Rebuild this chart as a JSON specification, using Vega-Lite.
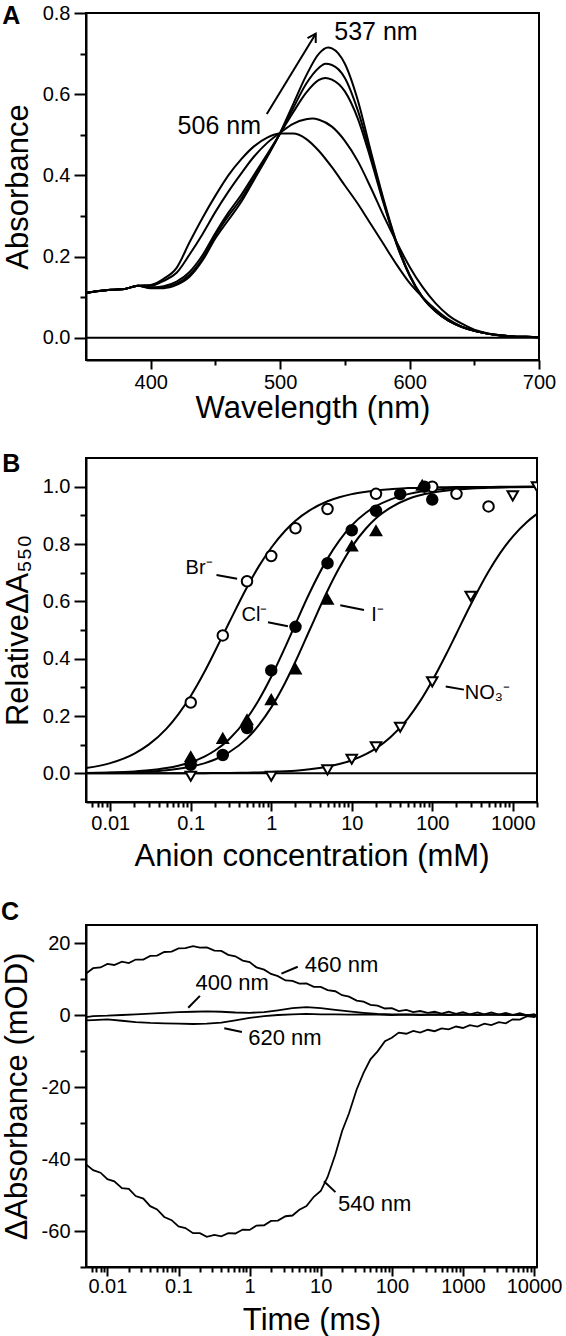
{
"$schema": "https://vega.github.io/schema/vega-lite/v6.json",
"padding": {"left": 0, "top": 2, "right": 0, "bottom": 0},
"spacing": 26,
"config": {
 "font": "Liberation Sans",
 "view": {"stroke": "black", "strokeWidth": 2},
 "axis": {"domainColor": "black", "domainWidth": 2, "tickColor": "black", "tickWidth": 2, "labelColor": "black", "labelFontSize": 20, "titleColor": "black", "titleFontSize": 31, "titleFontWeight": "normal", "grid": false, "labelFlush": false, "labelOverlap": false},
 "title": {"fontSize": 25, "fontWeight": "bold", "anchor": "start", "frame": "bounds", "color": "black", "baseline": "middle"}
},
"datasets": {
 "specA": [
  {"x":350,"y":0.110,"c":1},{"x":360,"y":0.115,"c":1},{"x":370,"y":0.118,"c":1},{"x":380,"y":0.120,"c":1},{"x":390,"y":0.128,"c":1},{"x":400,"y":0.130,"c":1},{"x":410,"y":0.145,"c":1},{"x":420,"y":0.172,"c":1},{"x":430,"y":0.235,"c":1},{"x":440,"y":0.295,"c":1},{"x":450,"y":0.350,"c":1},{"x":460,"y":0.400,"c":1},{"x":470,"y":0.440,"c":1},{"x":480,"y":0.472,"c":1},{"x":490,"y":0.493,"c":1},{"x":500,"y":0.503,"c":1},{"x":510,"y":0.503,"c":1},{"x":520,"y":0.490,"c":1},{"x":530,"y":0.460,"c":1},{"x":540,"y":0.420,"c":1},{"x":550,"y":0.375,"c":1},{"x":560,"y":0.330,"c":1},{"x":570,"y":0.280,"c":1},{"x":580,"y":0.230,"c":1},{"x":590,"y":0.180,"c":1},{"x":600,"y":0.135,"c":1},{"x":610,"y":0.100,"c":1},{"x":620,"y":0.070,"c":1},{"x":630,"y":0.045,"c":1},{"x":640,"y":0.028,"c":1},{"x":650,"y":0.017,"c":1},{"x":660,"y":0.010,"c":1},{"x":670,"y":0.005,"c":1},{"x":680,"y":0.003,"c":1},{"x":690,"y":0.002,"c":1},{"x":700,"y":0.001,"c":1},
  {"x":350,"y":0.110,"c":2},{"x":360,"y":0.115,"c":2},{"x":370,"y":0.118,"c":2},{"x":380,"y":0.120,"c":2},{"x":390,"y":0.128,"c":2},{"x":400,"y":0.128,"c":2},{"x":410,"y":0.140,"c":2},{"x":420,"y":0.160,"c":2},{"x":430,"y":0.205,"c":2},{"x":440,"y":0.255,"c":2},{"x":450,"y":0.310,"c":2},{"x":460,"y":0.360,"c":2},{"x":470,"y":0.405,"c":2},{"x":480,"y":0.447,"c":2},{"x":490,"y":0.480,"c":2},{"x":500,"y":0.505,"c":2},{"x":510,"y":0.527,"c":2},{"x":520,"y":0.538,"c":2},{"x":525,"y":0.540,"c":2},{"x":530,"y":0.537,"c":2},{"x":540,"y":0.520,"c":2},{"x":550,"y":0.485,"c":2},{"x":560,"y":0.435,"c":2},{"x":570,"y":0.370,"c":2},{"x":580,"y":0.300,"c":2},{"x":590,"y":0.235,"c":2},{"x":600,"y":0.175,"c":2},{"x":610,"y":0.125,"c":2},{"x":620,"y":0.085,"c":2},{"x":630,"y":0.055,"c":2},{"x":640,"y":0.035,"c":2},{"x":650,"y":0.020,"c":2},{"x":660,"y":0.011,"c":2},{"x":670,"y":0.006,"c":2},{"x":680,"y":0.003,"c":2},{"x":690,"y":0.002,"c":2},{"x":700,"y":0.001,"c":2},
  {"x":350,"y":0.110,"c":3},{"x":360,"y":0.115,"c":3},{"x":370,"y":0.118,"c":3},{"x":380,"y":0.120,"c":3},{"x":390,"y":0.128,"c":3},{"x":400,"y":0.124,"c":3},{"x":410,"y":0.127,"c":3},{"x":420,"y":0.138,"c":3},{"x":430,"y":0.162,"c":3},{"x":440,"y":0.203,"c":3},{"x":450,"y":0.258,"c":3},{"x":460,"y":0.308,"c":3},{"x":470,"y":0.352,"c":3},{"x":480,"y":0.402,"c":3},{"x":490,"y":0.452,"c":3},{"x":500,"y":0.503,"c":3},{"x":510,"y":0.555,"c":3},{"x":520,"y":0.603,"c":3},{"x":530,"y":0.635,"c":3},{"x":535,"y":0.640,"c":3},{"x":540,"y":0.636,"c":3},{"x":550,"y":0.607,"c":3},{"x":560,"y":0.540,"c":3},{"x":570,"y":0.440,"c":3},{"x":580,"y":0.330,"c":3},{"x":590,"y":0.230,"c":3},{"x":600,"y":0.153,"c":3},{"x":610,"y":0.099,"c":3},{"x":620,"y":0.065,"c":3},{"x":630,"y":0.042,"c":3},{"x":640,"y":0.027,"c":3},{"x":650,"y":0.017,"c":3},{"x":660,"y":0.010,"c":3},{"x":670,"y":0.006,"c":3},{"x":680,"y":0.003,"c":3},{"x":690,"y":0.002,"c":3},{"x":700,"y":0.001,"c":3},
  {"x":350,"y":0.110,"c":4},{"x":360,"y":0.115,"c":4},{"x":370,"y":0.118,"c":4},{"x":380,"y":0.120,"c":4},{"x":390,"y":0.128,"c":4},{"x":400,"y":0.123,"c":4},{"x":410,"y":0.124,"c":4},{"x":420,"y":0.133,"c":4},{"x":430,"y":0.155,"c":4},{"x":440,"y":0.195,"c":4},{"x":450,"y":0.252,"c":4},{"x":460,"y":0.300,"c":4},{"x":470,"y":0.343,"c":4},{"x":480,"y":0.395,"c":4},{"x":490,"y":0.448,"c":4},{"x":500,"y":0.503,"c":4},{"x":510,"y":0.565,"c":4},{"x":520,"y":0.625,"c":4},{"x":530,"y":0.665,"c":4},{"x":535,"y":0.675,"c":4},{"x":540,"y":0.672,"c":4},{"x":550,"y":0.640,"c":4},{"x":560,"y":0.560,"c":4},{"x":570,"y":0.450,"c":4},{"x":580,"y":0.335,"c":4},{"x":590,"y":0.232,"c":4},{"x":600,"y":0.153,"c":4},{"x":610,"y":0.099,"c":4},{"x":620,"y":0.065,"c":4},{"x":630,"y":0.042,"c":4},{"x":640,"y":0.027,"c":4},{"x":650,"y":0.017,"c":4},{"x":660,"y":0.010,"c":4},{"x":670,"y":0.006,"c":4},{"x":680,"y":0.003,"c":4},{"x":690,"y":0.002,"c":4},{"x":700,"y":0.001,"c":4},
  {"x":350,"y":0.110,"c":5},{"x":360,"y":0.115,"c":5},{"x":370,"y":0.118,"c":5},{"x":380,"y":0.120,"c":5},{"x":390,"y":0.128,"c":5},{"x":400,"y":0.122,"c":5},{"x":410,"y":0.122,"c":5},{"x":420,"y":0.130,"c":5},{"x":430,"y":0.150,"c":5},{"x":440,"y":0.190,"c":5},{"x":450,"y":0.245,"c":5},{"x":460,"y":0.290,"c":5},{"x":470,"y":0.335,"c":5},{"x":480,"y":0.390,"c":5},{"x":490,"y":0.445,"c":5},{"x":500,"y":0.505,"c":5},{"x":510,"y":0.575,"c":5},{"x":520,"y":0.645,"c":5},{"x":530,"y":0.700,"c":5},{"x":537,"y":0.715,"c":5},{"x":540,"y":0.713,"c":5},{"x":550,"y":0.675,"c":5},{"x":560,"y":0.585,"c":5},{"x":570,"y":0.460,"c":5},{"x":580,"y":0.340,"c":5},{"x":590,"y":0.235,"c":5},{"x":600,"y":0.155,"c":5},{"x":610,"y":0.100,"c":5},{"x":620,"y":0.065,"c":5},{"x":630,"y":0.042,"c":5},{"x":640,"y":0.027,"c":5},{"x":650,"y":0.017,"c":5},{"x":660,"y":0.010,"c":5},{"x":670,"y":0.006,"c":5},{"x":680,"y":0.003,"c":5},{"x":690,"y":0.002,"c":5},{"x":700,"y":0.001,"c":5}
 ],
 "zeroA": [{"x":350,"x2":700,"y":0}],
 "lblA": [{"x":453,"y":0.522,"t":"506 nm"},{"x":574,"y":0.752,"t":"537 nm"}],
 "arrA": [{"x":489.7,"y":0.551,"x2":527.5,"y2":0.749}],
 "headA": [{"x":527.5,"y":0.749}],
 "zeroB": [{"x":0.005,"x2":2000,"y":0}],
 "fitB": [
  {"x":0.005,"y":0.0182,"s":"Br"},{"x":0.01,"y":0.0357,"s":"Br"},{"x":0.02,"y":0.069,"s":"Br"},{"x":0.03,"y":0.1,"s":"Br"},{"x":0.05,"y":0.156,"s":"Br"},{"x":0.07,"y":0.206,"s":"Br"},{"x":0.1,"y":0.27,"s":"Br"},{"x":0.15,"y":0.357,"s":"Br"},{"x":0.2,"y":0.426,"s":"Br"},{"x":0.3,"y":0.526,"s":"Br"},{"x":0.5,"y":0.649,"s":"Br"},{"x":0.7,"y":0.722,"s":"Br"},{"x":1,"y":0.787,"s":"Br"},{"x":1.5,"y":0.847,"s":"Br"},{"x":2,"y":0.881,"s":"Br"},{"x":3,"y":0.917,"s":"Br"},{"x":5,"y":0.949,"s":"Br"},{"x":7,"y":0.963,"s":"Br"},{"x":10,"y":0.974,"s":"Br"},{"x":15,"y":0.982,"s":"Br"},{"x":20,"y":0.987,"s":"Br"},{"x":30,"y":0.991,"s":"Br"},{"x":50,"y":0.995,"s":"Br"},{"x":70,"y":0.996,"s":"Br"},{"x":100,"y":0.997,"s":"Br"},{"x":200,"y":0.999,"s":"Br"},{"x":500,"y":0.999,"s":"Br"},{"x":1000,"y":1.0,"s":"Br"},{"x":2000,"y":1.0,"s":"Br"},
  {"x":0.005,"y":0.0015,"s":"Cl"},{"x":0.01,"y":0.0032,"s":"Cl"},{"x":0.02,"y":0.0068,"s":"Cl"},{"x":0.03,"y":0.0106,"s":"Cl"},{"x":0.05,"y":0.0185,"s":"Cl"},{"x":0.07,"y":0.0266,"s":"Cl"},{"x":0.1,"y":0.0388,"s":"Cl"},{"x":0.15,"y":0.0594,"s":"Cl"},{"x":0.2,"y":0.0797,"s":"Cl"},{"x":0.3,"y":0.119,"s":"Cl"},{"x":0.5,"y":0.192,"s":"Cl"},{"x":0.7,"y":0.256,"s":"Cl"},{"x":1,"y":0.337,"s":"Cl"},{"x":1.5,"y":0.442,"s":"Cl"},{"x":2,"y":0.521,"s":"Cl"},{"x":3,"y":0.63,"s":"Cl"},{"x":5,"y":0.749,"s":"Cl"},{"x":7,"y":0.812,"s":"Cl"},{"x":10,"y":0.865,"s":"Cl"},{"x":15,"y":0.909,"s":"Cl"},{"x":20,"y":0.932,"s":"Cl"},{"x":30,"y":0.955,"s":"Cl"},{"x":50,"y":0.974,"s":"Cl"},{"x":70,"y":0.982,"s":"Cl"},{"x":100,"y":0.988,"s":"Cl"},{"x":200,"y":0.994,"s":"Cl"},{"x":500,"y":0.998,"s":"Cl"},{"x":1000,"y":0.999,"s":"Cl"},{"x":2000,"y":1.0,"s":"Cl"},
  {"x":0.005,"y":0.0009,"s":"I"},{"x":0.01,"y":0.0019,"s":"I"},{"x":0.02,"y":0.004,"s":"I"},{"x":0.03,"y":0.0063,"s":"I"},{"x":0.05,"y":0.0109,"s":"I"},{"x":0.07,"y":0.0158,"s":"I"},{"x":0.1,"y":0.0232,"s":"I"},{"x":0.15,"y":0.0357,"s":"I"},{"x":0.2,"y":0.0484,"s":"I"},{"x":0.3,"y":0.0736,"s":"I"},{"x":0.5,"y":0.122,"s":"I"},{"x":0.7,"y":0.168,"s":"I"},{"x":1,"y":0.23,"s":"I"},{"x":1.5,"y":0.318,"s":"I"},{"x":2,"y":0.39,"s":"I"},{"x":3,"y":0.5,"s":"I"},{"x":5,"y":0.637,"s":"I"},{"x":7,"y":0.717,"s":"I"},{"x":10,"y":0.79,"s":"I"},{"x":15,"y":0.854,"s":"I"},{"x":20,"y":0.89,"s":"I"},{"x":30,"y":0.926,"s":"I"},{"x":50,"y":0.957,"s":"I"},{"x":70,"y":0.97,"s":"I"},{"x":100,"y":0.979,"s":"I"},{"x":200,"y":0.99,"s":"I"},{"x":500,"y":0.996,"s":"I"},{"x":1000,"y":0.998,"s":"I"},{"x":2000,"y":0.999,"s":"I"},
  {"x":0.005,"y":0.0,"s":"NO3"},{"x":0.01,"y":0.0,"s":"NO3"},{"x":0.02,"y":0.0001,"s":"NO3"},{"x":0.03,"y":0.0001,"s":"NO3"},{"x":0.05,"y":0.0002,"s":"NO3"},{"x":0.07,"y":0.0003,"s":"NO3"},{"x":0.1,"y":0.0005,"s":"NO3"},{"x":0.15,"y":0.0007,"s":"NO3"},{"x":0.2,"y":0.001,"s":"NO3"},{"x":0.3,"y":0.0014,"s":"NO3"},{"x":0.5,"y":0.0024,"s":"NO3"},{"x":0.7,"y":0.0033,"s":"NO3"},{"x":1,"y":0.0047,"s":"NO3"},{"x":1.5,"y":0.0071,"s":"NO3"},{"x":2,"y":0.0094,"s":"NO3"},{"x":3,"y":0.0141,"s":"NO3"},{"x":5,"y":0.0233,"s":"NO3"},{"x":7,"y":0.0323,"s":"NO3"},{"x":10,"y":0.0455,"s":"NO3"},{"x":15,"y":0.0667,"s":"NO3"},{"x":20,"y":0.087,"s":"NO3"},{"x":30,"y":0.125,"s":"NO3"},{"x":50,"y":0.192,"s":"NO3"},{"x":70,"y":0.25,"s":"NO3"},{"x":100,"y":0.323,"s":"NO3"},{"x":150,"y":0.417,"s":"NO3"},{"x":200,"y":0.488,"s":"NO3"},{"x":300,"y":0.588,"s":"NO3"},{"x":500,"y":0.704,"s":"NO3"},{"x":700,"y":0.769,"s":"NO3"},{"x":1000,"y":0.826,"s":"NO3"},{"x":1500,"y":0.877,"s":"NO3"},{"x":2000,"y":0.905,"s":"NO3"}
 ],
 "ptsB": [
  {"x":0.1,"y":0.247,"s":"Br"},{"x":0.25,"y":0.481,"s":"Br"},{"x":0.5,"y":0.67,"s":"Br"},{"x":1,"y":0.758,"s":"Br"},{"x":2,"y":0.855,"s":"Br"},{"x":5,"y":0.922,"s":"Br"},{"x":20,"y":0.975,"s":"Br"},{"x":100,"y":1.0,"s":"Br"},{"x":200,"y":0.975,"s":"Br"},{"x":500,"y":0.931,"s":"Br"},
  {"x":0.1,"y":0.03,"s":"Cl"},{"x":0.25,"y":0.064,"s":"Cl"},{"x":0.5,"y":0.158,"s":"Cl"},{"x":1,"y":0.359,"s":"Cl"},{"x":2,"y":0.511,"s":"Cl"},{"x":5,"y":0.733,"s":"Cl"},{"x":10,"y":0.848,"s":"Cl"},{"x":20,"y":0.916,"s":"Cl"},{"x":40,"y":0.974,"s":"Cl"},{"x":80,"y":1.0,"s":"Cl"},{"x":100,"y":0.955,"s":"Cl"},
  {"x":0.1,"y":0.058,"s":"I"},{"x":0.25,"y":0.122,"s":"I"},{"x":0.5,"y":0.187,"s":"I"},{"x":1,"y":0.257,"s":"I"},{"x":2,"y":0.364,"s":"I"},{"x":5,"y":0.607,"s":"I"},{"x":10,"y":0.793,"s":"I"},{"x":20,"y":0.846,"s":"I"},{"x":75,"y":1.005,"s":"I"},
  {"x":0.1,"y":-0.01,"s":"NO3"},{"x":1,"y":-0.01,"s":"NO3"},{"x":5,"y":0.012,"s":"NO3"},{"x":10,"y":0.049,"s":"NO3"},{"x":20,"y":0.093,"s":"NO3"},{"x":40,"y":0.161,"s":"NO3"},{"x":100,"y":0.319,"s":"NO3"},{"x":300,"y":0.618,"s":"NO3"},{"x":1000,"y":0.968,"s":"NO3"},{"x":2000,"y":1.0,"s":"NO3"}
 ],
 "lblB": [{"x":0.127,"y":0.718,"t":"Br⁻"},{"x":0.62,"y":0.551,"t":"Cl⁻"},{"x":20.9,"y":0.551,"t":"I⁻"},{"x":484,"y":0.28,"t":"NO₃⁻"}],
 "ldrB": [{"x":0.209,"y":0.692,"x2":0.377,"y2":0.679},{"x":0.91,"y":0.527,"x2":1.61,"y2":0.513},{"x":7.2,"y":0.586,"x2":14.2,"y2":0.57},{"x":147,"y":0.303,"x2":247,"y2":0.292}],
 "trC": [
  {"x":0.005,"y":11.5,"s":"460"},{"x":0.0063,"y":13.0,"s":"460"},{"x":0.008,"y":13.2,"s":"460"},{"x":0.01,"y":14.2,"s":"460"},{"x":0.0125,"y":13.9,"s":"460"},{"x":0.016,"y":14.8,"s":"460"},{"x":0.02,"y":14.4,"s":"460"},{"x":0.025,"y":15.4,"s":"460"},{"x":0.032,"y":15.4,"s":"460"},{"x":0.04,"y":16.4,"s":"460"},{"x":0.05,"y":16.5,"s":"460"},{"x":0.063,"y":17.5,"s":"460"},{"x":0.08,"y":17.6,"s":"460"},{"x":0.1,"y":18.5,"s":"460"},{"x":0.125,"y":18.6,"s":"460"},{"x":0.16,"y":19.1,"s":"460"},{"x":0.2,"y":18.7,"s":"460"},{"x":0.25,"y":18.8,"s":"460"},{"x":0.32,"y":17.9,"s":"460"},{"x":0.4,"y":17.8,"s":"460"},{"x":0.5,"y":16.7,"s":"460"},{"x":0.63,"y":16.3,"s":"460"},{"x":0.8,"y":15.1,"s":"460"},{"x":1,"y":14.7,"s":"460"},{"x":1.25,"y":13.2,"s":"460"},{"x":1.6,"y":12.6,"s":"460"},{"x":2,"y":11.4,"s":"460"},{"x":2.5,"y":10.8,"s":"460"},{"x":3.2,"y":9.6,"s":"460"},{"x":4,"y":9.5,"s":"460"},{"x":5,"y":8.7,"s":"460"},{"x":6.3,"y":8.8,"s":"460"},{"x":8,"y":7.8,"s":"460"},{"x":10,"y":7.8,"s":"460"},{"x":12.5,"y":6.9,"s":"460"},{"x":16,"y":6.6,"s":"460"},{"x":20,"y":5.5,"s":"460"},{"x":25,"y":5.1,"s":"460"},{"x":32,"y":4.0,"s":"460"},{"x":40,"y":3.7,"s":"460"},{"x":50,"y":2.8,"s":"460"},{"x":63,"y":2.6,"s":"460"},{"x":80,"y":1.8,"s":"460"},{"x":100,"y":1.9,"s":"460"},{"x":125,"y":1.1,"s":"460"},{"x":160,"y":1.4,"s":"460"},{"x":200,"y":0.8,"s":"460"},{"x":250,"y":1.1,"s":"460"},{"x":320,"y":0.6,"s":"460"},{"x":400,"y":0.9,"s":"460"},{"x":500,"y":0.4,"s":"460"},{"x":630,"y":0.9,"s":"460"},{"x":800,"y":0.3,"s":"460"},{"x":1000,"y":0.8,"s":"460"},{"x":1250,"y":0.2,"s":"460"},{"x":1600,"y":0.7,"s":"460"},{"x":2000,"y":0.2,"s":"460"},{"x":2500,"y":0.7,"s":"460"},{"x":3200,"y":0.1,"s":"460"},{"x":4000,"y":0.6,"s":"460"},{"x":5000,"y":0.0,"s":"460"},{"x":6300,"y":0.5,"s":"460"},{"x":8000,"y":-0.1,"s":"460"},{"x":10000,"y":0.2,"s":"460"},{"x":11000,"y":-0.2,"s":"460"},
  {"x":0.005,"y":-41.5,"s":"540"},{"x":0.0063,"y":-43.1,"s":"540"},{"x":0.008,"y":-43.8,"s":"540"},{"x":0.01,"y":-45.6,"s":"540"},{"x":0.0125,"y":-46.2,"s":"540"},{"x":0.016,"y":-48.1,"s":"540"},{"x":0.02,"y":-48.3,"s":"540"},{"x":0.025,"y":-50.3,"s":"540"},{"x":0.032,"y":-51.0,"s":"540"},{"x":0.04,"y":-53.1,"s":"540"},{"x":0.05,"y":-54.0,"s":"540"},{"x":0.063,"y":-56.1,"s":"540"},{"x":0.08,"y":-57.0,"s":"540"},{"x":0.1,"y":-58.7,"s":"540"},{"x":0.125,"y":-59.2,"s":"540"},{"x":0.16,"y":-60.6,"s":"540"},{"x":0.2,"y":-60.6,"s":"540"},{"x":0.25,"y":-61.6,"s":"540"},{"x":0.32,"y":-61.1,"s":"540"},{"x":0.4,"y":-61.5,"s":"540"},{"x":0.5,"y":-60.6,"s":"540"},{"x":0.63,"y":-60.7,"s":"540"},{"x":0.8,"y":-59.6,"s":"540"},{"x":1,"y":-59.7,"s":"540"},{"x":1.25,"y":-58.5,"s":"540"},{"x":1.6,"y":-58.4,"s":"540"},{"x":2,"y":-57.2,"s":"540"},{"x":2.5,"y":-57.1,"s":"540"},{"x":3.2,"y":-55.9,"s":"540"},{"x":4,"y":-55.7,"s":"540"},{"x":5,"y":-54.1,"s":"540"},{"x":6.3,"y":-53.1,"s":"540"},{"x":8,"y":-50.5,"s":"540"},{"x":10,"y":-48.9,"s":"540"},{"x":12.5,"y":-45.0,"s":"540"},{"x":16,"y":-38.8,"s":"540"},{"x":20,"y":-32.2,"s":"540"},{"x":25,"y":-27.3,"s":"540"},{"x":32,"y":-20.7,"s":"540"},{"x":40,"y":-16.1,"s":"540"},{"x":50,"y":-12.3,"s":"540"},{"x":63,"y":-10.1,"s":"540"},{"x":80,"y":-7.3,"s":"540"},{"x":100,"y":-6.3,"s":"540"},{"x":125,"y":-4.9,"s":"540"},{"x":160,"y":-5.2,"s":"540"},{"x":200,"y":-4.4,"s":"540"},{"x":250,"y":-4.9,"s":"540"},{"x":320,"y":-4.1,"s":"540"},{"x":400,"y":-4.5,"s":"540"},{"x":500,"y":-3.7,"s":"540"},{"x":630,"y":-4.0,"s":"540"},{"x":800,"y":-3.2,"s":"540"},{"x":1000,"y":-3.6,"s":"540"},{"x":1250,"y":-2.8,"s":"540"},{"x":1600,"y":-3.2,"s":"540"},{"x":2000,"y":-2.4,"s":"540"},{"x":2500,"y":-2.8,"s":"540"},{"x":3200,"y":-2.0,"s":"540"},{"x":4000,"y":-2.3,"s":"540"},{"x":5000,"y":-1.2,"s":"540"},{"x":6300,"y":-1.3,"s":"540"},{"x":8000,"y":-0.3,"s":"540"},{"x":10000,"y":-0.6,"s":"540"},{"x":11000,"y":-0.2,"s":"540"},
  {"x":0.005,"y":-0.6,"s":"400"},{"x":0.0063,"y":-0.3,"s":"400"},{"x":0.01,"y":-0.2,"s":"400"},{"x":0.016,"y":0.0,"s":"400"},{"x":0.025,"y":0.2,"s":"400"},{"x":0.04,"y":0.4,"s":"400"},{"x":0.063,"y":0.6,"s":"400"},{"x":0.1,"y":0.8,"s":"400"},{"x":0.16,"y":0.9,"s":"400"},{"x":0.25,"y":1.0,"s":"400"},{"x":0.4,"y":0.9,"s":"400"},{"x":0.63,"y":0.7,"s":"400"},{"x":1,"y":0.6,"s":"400"},{"x":1.6,"y":0.8,"s":"400"},{"x":2.5,"y":1.3,"s":"400"},{"x":4,"y":1.9,"s":"400"},{"x":6.3,"y":2.2,"s":"400"},{"x":10,"y":1.9,"s":"400"},{"x":16,"y":1.4,"s":"400"},{"x":25,"y":1.0,"s":"400"},{"x":40,"y":0.6,"s":"400"},{"x":63,"y":0.3,"s":"400"},{"x":100,"y":0.2,"s":"400"},{"x":160,"y":0.2,"s":"400"},{"x":250,"y":0.1,"s":"400"},{"x":400,"y":0.2,"s":"400"},{"x":630,"y":0.1,"s":"400"},{"x":1000,"y":0.2,"s":"400"},{"x":1600,"y":0.1,"s":"400"},{"x":2500,"y":0.2,"s":"400"},{"x":4000,"y":0.1,"s":"400"},{"x":6300,"y":0.0,"s":"400"},{"x":10000,"y":-0.1,"s":"400"},{"x":11000,"y":-0.2,"s":"400"},
  {"x":0.005,"y":-1.5,"s":"620"},{"x":0.0063,"y":-1.4,"s":"620"},{"x":0.01,"y":-1.2,"s":"620"},{"x":0.016,"y":-1.6,"s":"620"},{"x":0.025,"y":-2.0,"s":"620"},{"x":0.04,"y":-2.2,"s":"620"},{"x":0.063,"y":-2.3,"s":"620"},{"x":0.1,"y":-2.4,"s":"620"},{"x":0.16,"y":-2.5,"s":"620"},{"x":0.25,"y":-2.4,"s":"620"},{"x":0.4,"y":-2.1,"s":"620"},{"x":0.63,"y":-1.5,"s":"620"},{"x":1,"y":-0.8,"s":"620"},{"x":1.6,"y":-0.3,"s":"620"},{"x":2.5,"y":0.0,"s":"620"},{"x":4,"y":0.2,"s":"620"},{"x":6.3,"y":0.3,"s":"620"},{"x":10,"y":0.2,"s":"620"},{"x":16,"y":0.2,"s":"620"},{"x":25,"y":0.1,"s":"620"},{"x":40,"y":0.2,"s":"620"},{"x":63,"y":0.1,"s":"620"},{"x":100,"y":0.0,"s":"620"},{"x":160,"y":0.1,"s":"620"},{"x":250,"y":0.0,"s":"620"},{"x":400,"y":0.1,"s":"620"},{"x":630,"y":0.0,"s":"620"},{"x":1000,"y":0.1,"s":"620"},{"x":1600,"y":0.0,"s":"620"},{"x":2500,"y":0.1,"s":"620"},{"x":4000,"y":0.0,"s":"620"},{"x":6300,"y":0.0,"s":"620"},{"x":10000,"y":-0.1,"s":"620"},{"x":11000,"y":-0.2,"s":"620"}
 ],
 "lblC": [{"x":19.6,"y":14.0,"t":"460 nm"},{"x":0.567,"y":9.0,"t":"400 nm"},{"x":3.13,"y":-6.3,"t":"620 nm"},{"x":57.3,"y":-52.4,"t":"540 nm"}],
 "ldrC": [{"x":2.8,"y":11.5,"x2":4.75,"y2":13.4},{"x":0.137,"y":2.0,"x2":0.2,"y2":5.3},{"x":0.44,"y":-3.7,"x2":0.78,"y2":-4.7},{"x":11.1,"y":-46.2,"x2":16.1,"y2":-49.2}]
},
"vconcat": [
 {
  "width": 453, "height": 347,
  "title": {"text": "A", "offset": -26},
  "encoding": {
   "x": {"field": "x", "type": "quantitative", "scale": {"domain": [350, 700], "nice": false, "zero": false},
    "axis": {"orient": "bottom", "title": "Wavelength (nm)", "values": [400,450,500,550,600,650,700], "labelExpr": "datum.value % 100 == 0 ? datum.label : ''", "tickSize": {"condition": {"test": "datum.value % 100 == 0", "value": 9}, "value": 5}, "labelPadding": 3, "titlePadding": 1.5}},
   "y": {"field": "y", "type": "quantitative", "scale": {"domain": [-0.055, 0.8], "nice": false, "zero": false},
    "axis": {"orient": "left", "title": "Absorbance", "values": [0,0.1,0.2,0.3,0.4,0.5,0.6,0.7,0.8], "format": ".1f", "labelExpr": "round(datum.value*10) % 2 == 0 ? datum.label : ''", "tickSize": {"condition": {"test": "round(datum.value*10) % 2 == 0", "value": 12}, "value": 6}, "labelPadding": 4, "titlePadding": 8}}
  },
  "layer": [
   {"data": {"name": "zeroA"}, "mark": {"type": "rule", "color": "black", "strokeWidth": 2},
    "encoding": {"x2": {"field": "x2"}}},
   {"data": {"name": "specA"}, "mark": {"type": "line", "color": "black", "strokeWidth": 2, "interpolate": "monotone", "clip": true},
    "encoding": {"detail": {"field": "c"}}},
   {"data": {"name": "arrA"}, "mark": {"type": "rule", "color": "black", "strokeWidth": 2},
    "encoding": {"x2": {"field": "x2"}, "y2": {"field": "y2"}}},
   {"data": {"name": "headA"}, "mark": {"type": "point", "shape": "M-0.6,1L0,0L0.6,1", "filled": false, "stroke": "black", "strokeWidth": 2, "size": 256, "angle": 31, "opacity": 1}},
   {"data": {"name": "lblA"}, "mark": {"type": "text", "fontSize": 25, "align": "center", "baseline": "middle", "color": "black"},
    "encoding": {"text": {"field": "t"}}}
  ]
 },
 {
  "width": 451, "height": 344,
  "title": {"text": "B", "offset": -19},
  "encoding": {
   "x": {"field": "x", "type": "quantitative", "scale": {"type": "log", "domain": [0.005, 2000], "nice": false},
    "axis": {"orient": "bottom", "title": "Anion concentration (mM)", "values": [0.006,0.007,0.008,0.009,0.01,0.02,0.03,0.04,0.05,0.06,0.07,0.08,0.09,0.1,0.2,0.3,0.4,0.5,0.6,0.7,0.8,0.9,1,2,3,4,5,6,7,8,9,10,20,30,40,50,60,70,80,90,100,200,300,400,500,600,700,800,900,1000,2000], "labelExpr": "abs(log(datum.value)/LN10 - round(log(datum.value)/LN10)) < 0.001 ? format(datum.value, '~g') : ''", "tickSize": {"condition": {"test": "abs(log(datum.value)/LN10 - round(log(datum.value)/LN10)) < 0.001", "value": 9}, "value": 5}, "labelPadding": 2.5, "titlePadding": 8}},
   "y": {"field": "y", "type": "quantitative", "scale": {"domain": [-0.1, 1.1], "nice": false, "zero": false},
    "axis": {"orient": "left", "title": "RelativeΔA₅₅₀", "values": [0,0.1,0.2,0.3,0.4,0.5,0.6,0.7,0.8,0.9,1.0], "format": ".1f", "labelExpr": "round(datum.value*10) % 2 == 0 ? datum.label : ''", "tickSize": {"condition": {"test": "round(datum.value*10) % 2 == 0", "value": 12}, "value": 6}, "labelPadding": 4, "titlePadding": 8}}
  },
  "layer": [
   {"data": {"name": "zeroB"}, "mark": {"type": "rule", "color": "black", "strokeWidth": 2},
    "encoding": {"x2": {"field": "x2"}}},
   {"data": {"name": "fitB"}, "mark": {"type": "line", "color": "black", "strokeWidth": 2, "interpolate": "monotone", "clip": true},
    "encoding": {"detail": {"field": "s"}}},
   {"data": {"name": "ldrB"}, "mark": {"type": "rule", "color": "black", "strokeWidth": 2},
    "encoding": {"x2": {"field": "x2"}, "y2": {"field": "y2"}}},
   {"data": {"name": "ptsB"}, "mark": {"type": "point", "filled": true, "stroke": "black", "strokeWidth": 2, "size": 110, "opacity": 1, "clip": true},
    "encoding": {
     "shape": {"field": "s", "type": "nominal", "scale": {"domain": ["Br","Cl","I","NO3"], "range": ["circle","circle","triangle-up","triangle-down"]}, "legend": null},
     "fill": {"field": "s", "type": "nominal", "scale": {"domain": ["Br","Cl","I","NO3"], "range": ["white","black","black","white"]}, "legend": null}
    }},
   {"data": {"name": "lblB"}, "mark": {"type": "text", "fontSize": 20, "align": "center", "baseline": "middle", "color": "black"},
    "encoding": {"text": {"field": "t"}}}
  ]
 },
 {
  "width": 451, "height": 342,
  "title": {"text": "C", "offset": 0},
  "encoding": {
   "x": {"field": "x", "type": "quantitative", "scale": {"type": "log", "domain": [0.005, 11000], "nice": false},
    "axis": {"orient": "bottom", "title": "Time (ms)", "values": [0.006,0.007,0.008,0.009,0.01,0.02,0.03,0.04,0.05,0.06,0.07,0.08,0.09,0.1,0.2,0.3,0.4,0.5,0.6,0.7,0.8,0.9,1,2,3,4,5,6,7,8,9,10,20,30,40,50,60,70,80,90,100,200,300,400,500,600,700,800,900,1000,2000,3000,4000,5000,6000,7000,8000,9000,10000], "labelExpr": "abs(log(datum.value)/LN10 - round(log(datum.value)/LN10)) < 0.001 ? format(datum.value, '~g') : ''", "tickSize": {"condition": {"test": "abs(log(datum.value)/LN10 - round(log(datum.value)/LN10)) < 0.001", "value": 9}, "value": 5}, "labelPadding": 0, "titlePadding": 9.5}},
   "y": {"field": "y", "type": "quantitative", "scale": {"domain": [-70, 25], "nice": false, "zero": false},
    "axis": {"orient": "left", "title": "ΔAbsorbance (mOD)", "values": [-70,-60,-50,-40,-30,-20,-10,0,10,20], "labelExpr": "datum.value % 20 == 0 ? replace(datum.label, '−', '-') : ''", "tickSize": {"condition": {"test": "datum.value % 20 == 0", "value": 12}, "value": 6}, "labelPadding": 4, "titlePadding": 8}}
  },
  "layer": [
   {"data": {"name": "trC"}, "mark": {"type": "line", "color": "black", "strokeWidth": 1.8, "clip": true},
    "encoding": {"detail": {"field": "s"}}},
   {"data": {"name": "ldrC"}, "mark": {"type": "rule", "color": "black", "strokeWidth": 2},
    "encoding": {"x2": {"field": "x2"}, "y2": {"field": "y2"}}},
   {"data": {"name": "lblC"}, "mark": {"type": "text", "fontSize": 22, "align": "center", "baseline": "middle", "color": "black"},
    "encoding": {"text": {"field": "t"}}}
  ]
 }
]
}
